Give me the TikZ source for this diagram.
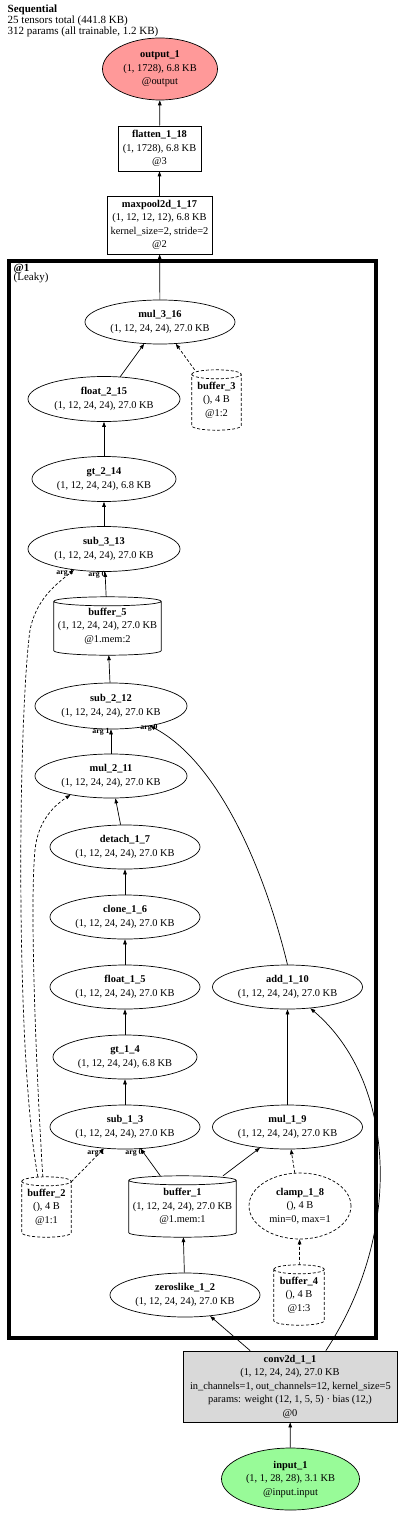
\documentclass[tikz,border=0pt]{standalone}
\usepackage{fontspec}
\setmainfont{Liberation Serif}
\usetikzlibrary{shapes.geometric,arrows.meta,calc}
\definecolor{outred}{HTML}{FF9999}
\definecolor{ingreen}{HTML}{98FB98}
\definecolor{convgray}{HTML}{D9D9D9}
\newcommand\ml[1]{\makebox[0pt]{#1}}
\newcommand\drawcyl[2]{%
  \draw[#2] let \p1=(#1.north west), \p2=(#1.south east), \n1={0.5*(\x2-\x1)} in
   (\x1,\y1-4.5pt) arc[start angle=180,end angle=0,x radius=\n1,y radius=4.5pt]
   -- (\x2,\y2+4.5pt) arc[start angle=0,end angle=-180,x radius=\n1,y radius=4.5pt] -- cycle
   (\x1,\y1-4.5pt) arc[start angle=180,end angle=360,x radius=\n1,y radius=4.5pt];}
\tikzset{
  txt/.style={font=\fontsize{10.4}{13.5}\selectfont, align=center, inner sep=0pt},
  oval/.style={txt, ellipse, draw, line width=0.7pt},
  box/.style={txt, rectangle, draw, line width=0.7pt},
  cylbox/.style={txt, rectangle},
  argl/.style={font=\fontsize{7.8}{7.8}\selectfont\bfseries, inner sep=0pt},
  e/.style={line width=0.7pt, -{Triangle[length=5pt,width=3.6pt]}},
  de/.style={e, dash pattern=on 3pt off 2pt},
  small/.style={font=\fontsize{11}{9.8}\selectfont, align=left, inner sep=0pt, anchor=north west}
}
\begin{document}
\begin{tikzpicture}[x=1pt,y=-1pt]
\useasboundingbox (0,0) rectangle (400,1514);
\fill[white] (0,0) rectangle (400,1514);

\node[small] (hdr) at (7.5,5) {\textbf{Sequential}\\25 tensors total (441.8 KB)\\312 params (all trainable, 1.2 KB)};

% cluster
\draw[line width=3.5pt] (9,261) rectangle (376,1338);
\node[small] (clab) at (13.5,263.5) {\textbf{@1}\\(Leaky)};

\node[oval, fill=outred, minimum width=115, minimum height=62] (output1) at (160,69)
  {\textbf{output\_1}\\(1, 1728), 6.8 KB\\@output};
\node[box, minimum width=83, minimum height=45] (flatten) at (159.5,148.5)
  {\ml{\textbf{flatten\_1\_18}}\\\ml{(1, 1728), 6.8 KB}\\\ml{@3}};
\node[box, minimum width=105, minimum height=58] (maxpool) at (159.5,225)
  {\ml{\textbf{maxpool2d\_1\_17}}\\\ml{(1, 12, 12, 12), 6.8 KB}\\\ml{kernel\_size=2, stride=2}\\\ml{@2}};

\node[oval, minimum width=150, minimum height=44] (mul316) at (160,322)
  {\textbf{mul\_3\_16}\\(1, 12, 24, 24), 27.0 KB};
\node[oval, minimum width=152, minimum height=45] (float215) at (104,399)
  {\textbf{float\_2\_15}\\(1, 12, 24, 24), 27.0 KB};
\node[cylbox, minimum width=49, minimum height=60] (buffer3) at (216.5,400)
  {\ml{\textbf{buffer\_3}}\\\ml{(), 4 B}\\\ml{@1:2}};
\drawcyl{buffer3}{line width=0.7pt, dash pattern=on 3pt off 2pt}
\node[oval, minimum width=144, minimum height=45] (gt214) at (104,479)
  {\textbf{gt\_2\_14}\\(1, 12, 24, 24), 6.8 KB};
\node[oval, minimum width=152, minimum height=45] (sub313) at (104,549)
  {\textbf{sub\_3\_13}\\(1, 12, 24, 24), 27.0 KB};
\node[cylbox, minimum width=107, minimum height=58] (buffer5) at (107.5,626)
  {\ml{\textbf{buffer\_5}}\\\ml{(1, 12, 24, 24), 27.0 KB}\\\ml{@1.mem:2}};
\drawcyl{buffer5}{line width=0.7pt}
\node[oval, minimum width=152, minimum height=46] (sub212) at (111,706)
  {\textbf{sub\_2\_12}\\(1, 12, 24, 24), 27.0 KB};
\node[oval, minimum width=152, minimum height=44] (mul211) at (111,776)
  {\textbf{mul\_2\_11}\\(1, 12, 24, 24), 27.0 KB};
\node[oval, minimum width=150, minimum height=44] (detach17) at (125,847)
  {\textbf{detach\_1\_7}\\(1, 12, 24, 24), 27.0 KB};
\node[oval, minimum width=150, minimum height=44] (clone16) at (125,917)
  {\textbf{clone\_1\_6}\\(1, 12, 24, 24), 27.0 KB};
\node[oval, minimum width=150, minimum height=44] (float15) at (125,987)
  {\textbf{float\_1\_5}\\(1, 12, 24, 24), 27.0 KB};
\node[oval, minimum width=150, minimum height=44] (add110) at (287.5,987)
  {\textbf{add\_1\_10}\\(1, 12, 24, 24), 27.0 KB};
\node[oval, minimum width=144, minimum height=44] (gt14) at (125,1057)
  {\textbf{gt\_1\_4}\\(1, 12, 24, 24), 6.8 KB};
\node[oval, minimum width=150, minimum height=44] (sub13) at (125,1127)
  {\textbf{sub\_1\_3}\\(1, 12, 24, 24), 27.0 KB};
\node[oval, minimum width=150, minimum height=44] (mul19) at (287.5,1127)
  {\textbf{mul\_1\_9}\\(1, 12, 24, 24), 27.0 KB};
\node[cylbox, minimum width=49, minimum height=60] (buffer2) at (46.5,1207)
  {\ml{\textbf{buffer\_2}}\\\ml{(), 4 B}\\\ml{@1:1}};
\drawcyl{buffer2}{line width=0.7pt, dash pattern=on 3pt off 2pt}
\node[cylbox, minimum width=107, minimum height=61] (buffer1) at (182.5,1206.5)
  {\ml{\textbf{buffer\_1}}\\\ml{(1, 12, 24, 24), 27.0 KB}\\\ml{@1.mem:1}};
\drawcyl{buffer1}{line width=0.7pt}
\node[oval, dash pattern=on 3pt off 2pt, minimum width=102, minimum height=66] (clamp18) at (300,1206)
  {\textbf{clamp\_1\_8}\\(), 4 B\\min=0, max=1};
\node[cylbox, minimum width=50, minimum height=60] (buffer4) at (299,1295)
  {\ml{\textbf{buffer\_4}}\\\ml{(), 4 B}\\\ml{@1:3}};
\drawcyl{buffer4}{line width=0.7pt, dash pattern=on 3pt off 2pt}
\node[oval, minimum width=150, minimum height=44] (zeroslike12) at (185,1295)
  {\textbf{zeroslike\_1\_2}\\(1, 12, 24, 24), 27.0 KB};

\node[box, fill=convgray, minimum width=214, minimum height=71] (conv2d) at (290,1386.5)
  {\ml{\textbf{conv2d\_1\_1}}\\\ml{(1, 12, 24, 24), 27.0 KB}\\\makebox[0pt][l]{\hskip-100pt in\_channels=1, out\_channels=12, kernel\_size=5}\\\ml{params: weight (12, 1, 5, 5) · bias (12,)}\\\ml{@0}};
\node[oval, fill=ingreen, minimum width=138, minimum height=62] (input1) at (290.5,1479)
  {\textbf{input\_1}\\(1, 1, 28, 28), 3.1 KB\\@input.input};

% edges
\draw[e] (input1) -- (conv2d);
\draw[e] (conv2d.138) -- (zeroslike12.-40);
\draw[e] (conv2d.45) .. controls (405,1230) and (395,1080) .. (add110.-43);
\draw[e] (zeroslike12) -- (buffer1);
\draw[de] (buffer4) -- (clamp18);
\draw[de] (clamp18) -- (mul19);
\draw[e] (buffer1) -- (sub13);
\draw[e] (buffer1) -- (mul19);
\draw[de] (buffer2) -- (sub13);
\draw[e] (mul19) -- (add110);
\draw[e] (sub13) -- (gt14);
\draw[e] (gt14) -- (float15);
\draw[e] (float15) -- (clone16);
\draw[e] (clone16) -- (detach17);
\draw[e] (detach17) -- (mul211);
\draw[de] (buffer2.97) .. controls (35,1050) and (30,900) .. (35,850) .. controls (38,820) and (55,805) .. (mul211.205);
\draw[e] (mul211) -- (sub212);
\draw[e] (add110.north) .. controls (262,860) and (215,760) .. (sub212.-27);
\draw[e] (sub212) -- (buffer5);
\draw[e] (buffer5) -- (sub313);
\draw[de] (buffer2.106) .. controls (15,1050) and (18,720) .. (30,630) .. controls (36,600) and (55,585) .. (sub313.215);
\draw[e] (sub313) -- (gt214);
\draw[e] (gt214) -- (float215);
\draw[e] (float215) -- (mul316);
\draw[de] (buffer3) -- (mul316);
\draw[e] (mul316) -- (maxpool);
\draw[e] (maxpool) -- (flatten);
\draw[e] (flatten) -- (output1);

% edge labels
\node[argl] (l1) at (65,573) {arg 1};
\node[argl] (l2) at (97,575) {arg 0};
\node[argl] (l3) at (101,732) {arg 1};
\node[argl] (l4) at (149,728) {arg 0};
\node[argl] (l5) at (96,1153) {arg 1};
\node[argl] (l6) at (134,1153) {arg 0};
\end{tikzpicture}
\end{document}
